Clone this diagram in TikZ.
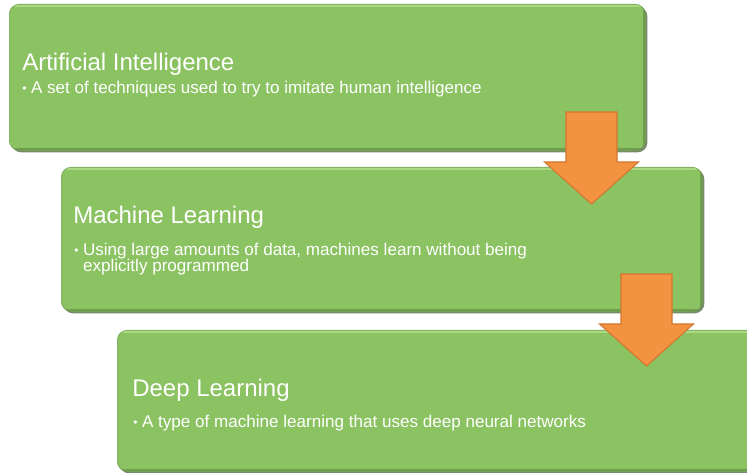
\documentclass[tikz,border=0pt]{standalone}
\usepackage{fontspec}
\setmainfont{Liberation Sans}
\usetikzlibrary{shadows}

\definecolor{boxgreen}{RGB}{139,194,98}
\definecolor{boxedge}{RGB}{110,158,74}
\definecolor{boxlight}{RGB}{178,222,140}
\definecolor{boxshade}{RGB}{60,90,40}
\definecolor{arroworange}{RGB}{243,146,64}
\definecolor{arrowedge}{RGB}{212,118,46}

\tikzset{
	levelbox/.style={draw=boxedge, fill=boxgreen, rounded corners=7.5pt, anchor=north west, inner sep=0pt,
		drop shadow={shadow xshift=1.6pt, shadow yshift=-1.6pt, fill=boxshade, opacity=0.7},
		path picture={
			\draw[boxlight, line width=1.5pt, opacity=0.8]
			([yshift=-1.5pt]path picture bounding box.north west) -- ([yshift=-1.5pt]path picture bounding box.north east);
			\draw[boxshade, line width=1.5pt, opacity=0.35]
			([xshift=-1.2pt]path picture bounding box.north east) -- ([xshift=-1.2pt]path picture bounding box.south east);
			\draw[boxshade, line width=1.5pt, opacity=0.35]
			([yshift=1.2pt]path picture bounding box.south west) -- ([yshift=1.2pt]path picture bounding box.south east);
		}},
	leveltitle/.style={anchor=base west, text=white, inner sep=0pt, font=\fontsize{18}{21.6}\selectfont},
	levelnote/.style={anchor=north west, text=white, inner sep=0pt, align=left, font=\fontsize{12.8}{12.2}\selectfont},
	blockarrow/.pic={
		\draw[fill=arroworange, draw=arrowedge, line width=0.8pt, line join=miter]
		(-25.5,0) -- (25.5,0) -- (25.5,50) -- (47,50) -- (0,92) -- (-47,50) -- (-25.5,50) -- cycle;
	}
}
\newcommand{\notebul}{\makebox[6.6pt][l]{\raisebox{0.6pt}{\scalebox{0.7}{\textbullet}}}}

\begin{document}
\begin{tikzpicture}[x=0.75pt, y=-0.75pt]
	\useasboundingbox (0,0) rectangle (747,473);

	% the three levels
	\node[levelbox, minimum width=477pt, minimum height=109.5pt] (ai) at (9,4) {};
	\node[levelbox, minimum width=480.75pt, minimum height=108pt] (ml) at (61,167) {};
	\node[levelbox, minimum width=495pt, minimum height=105.75pt] (dl) at (117,330) {};

	\node[leveltitle] (aititle) at (22,71) {Artificial Intelligence};
	\node[levelnote] (ainote) at (22,81) {\notebul A set of techniques used to try to imitate human intelligence};

	\node[leveltitle] (mltitle) at (73,224) {Machine Learning};
	\node[levelnote] (mlnote) at (74,243) {\notebul Using large amounts of data, machines learn without being\\
		\hphantom{\notebul}explicitly programmed};

	\node[leveltitle] (dltitle) at (132,397) {Deep Learning};
	\node[levelnote] (dlnote) at (133,415) {\notebul A type of machine learning that uses deep neural networks};

	% arrows between levels
	\pic at (591.5,112) {blockarrow};
	\pic at (646.5,274) {blockarrow};
\end{tikzpicture}
\end{document}
